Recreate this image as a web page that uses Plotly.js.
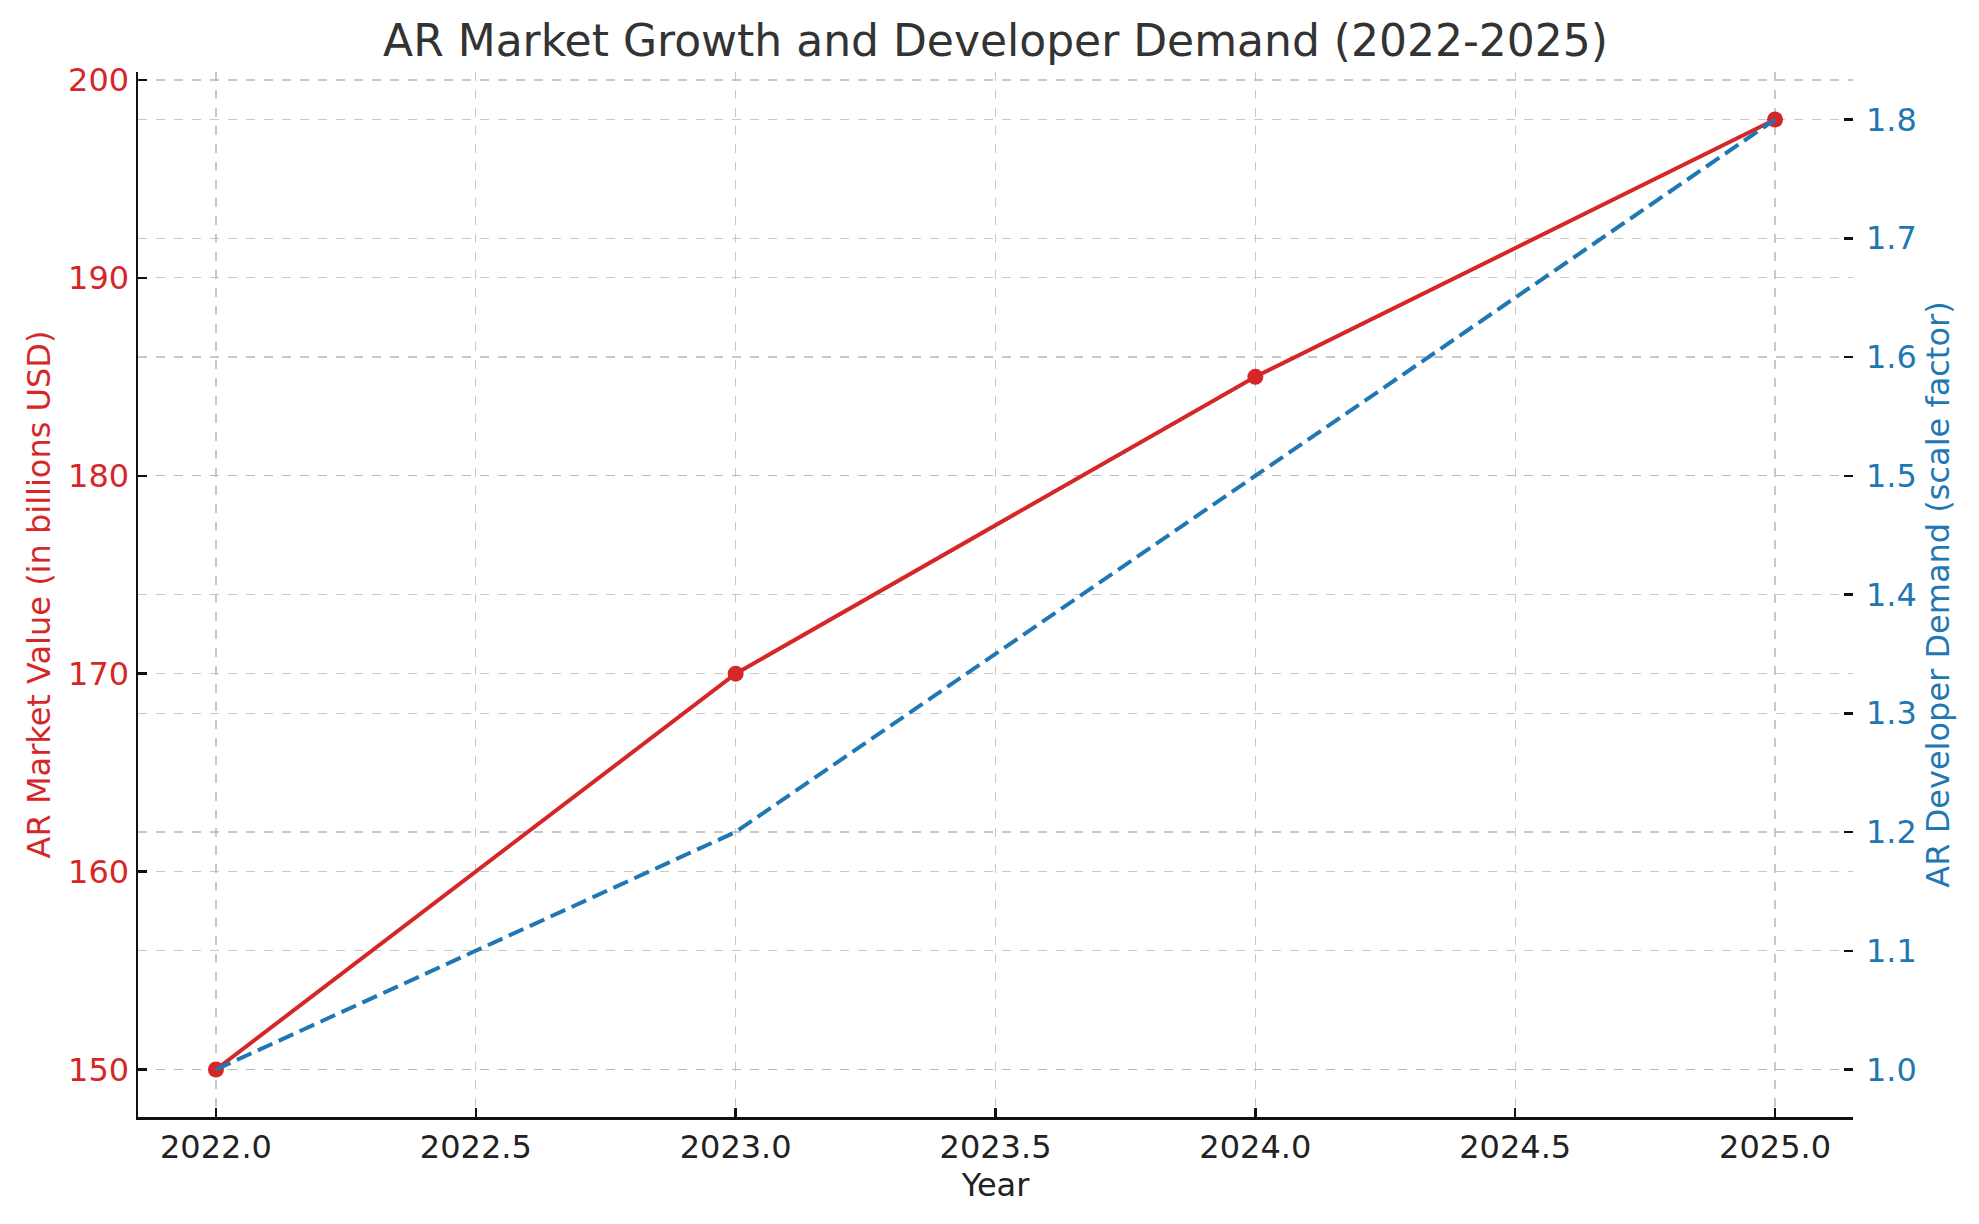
<!DOCTYPE html>
<html>
<head>
<meta charset="utf-8">
<script src="https://cdn.plot.ly/plotly-3.0.1.min.js"></script>
<style>html,body{margin:0;padding:0;background:#fff;}#chart{width:1979px;height:1224px;}</style>
</head>
<body>
<div id="chart"></div>
<script>
const years = [2022, 2023, 2024, 2025];
const marketValue = [150, 170, 185, 198];
const developerDemand = [1.0, 1.2, 1.5, 1.8];

const red = '#d62728';
const blue = '#1f77b4';
const font = 'DejaVu Sans, sans-serif';

const traces = [
  {
    x: years, y: marketValue, type: 'scatter', mode: 'lines+markers',
    line: {color: red, width: 4}, marker: {color: red, size: 16},
    yaxis: 'y', name: 'AR Market Value'
  },
  {
    x: years, y: developerDemand, type: 'scatter', mode: 'lines',
    line: {color: blue, width: 4, dash: '16px,7px'},
    yaxis: 'y2', name: 'AR Developer Demand'
  }
];

const gridCommon = {gridcolor: 'rgba(176,176,176,0.7)', griddash: 'dash', gridwidth: 1.3};

const layout = {
  width: 1979, height: 1224,
  margin: {l: 138, r: 126, t: 72, b: 107},
  paper_bgcolor: '#fff', plot_bgcolor: '#fff',
  showlegend: false,
  font: {family: font, size: 32, color: '#222'},
  title: {text: 'AR Market Growth and Developer Demand (2022-2025)', x: 0.5, xref: 'paper', xanchor: 'center', y: 0.967, yref: 'container', yanchor: 'middle', font: {family: font, size: 44, color: '#333'}},
  xaxis: Object.assign({
    range: [2021.85, 2025.15], dtick: 0.5, tick0: 2022, tickformat: '.1f',
    showline: true, linecolor: '#111', linewidth: 2.5, mirror: false,
    ticks: 'inside', ticklen: 9, tickwidth: 2.5, tickcolor: '#111',
    tickfont: {family: font, size: 32, color: '#222'},
    zeroline: false,
    title: {text: 'Year', font: {family: font, size: 32, color: '#222'}, standoff: 6}
  }, gridCommon),
  yaxis: Object.assign({
    range: [147.6, 200.4], dtick: 10, tick0: 150,
    showline: true, linecolor: '#111', linewidth: 2.5,
    ticks: 'inside', ticklen: 9, tickwidth: 2.5, tickcolor: '#111',
    tickfont: {family: font, size: 32, color: red},
    zeroline: false,
    title: {text: 'AR Market Value (in billions USD)', font: {family: font, size: 32, color: red}, standoff: 8}
  }, gridCommon),
  yaxis2: Object.assign({
    overlaying: 'y', side: 'right',
    range: [0.96, 1.84], dtick: 0.1, tick0: 1.0, tickformat: '.1f',
    showline: false,
    ticks: 'inside', ticklen: 9, tickwidth: 2.5, tickcolor: '#111',
    ticklabelstandoff: 12,
    tickfont: {family: font, size: 32, color: blue},
    zeroline: false,
    title: {text: 'AR Developer Demand (scale factor)', font: {family: font, size: 32, color: blue}, standoff: 10}
  }, gridCommon)
};

Plotly.newPlot('chart', traces, layout, {displayModeBar: false, staticPlot: true});
</script>
</body>
</html>
